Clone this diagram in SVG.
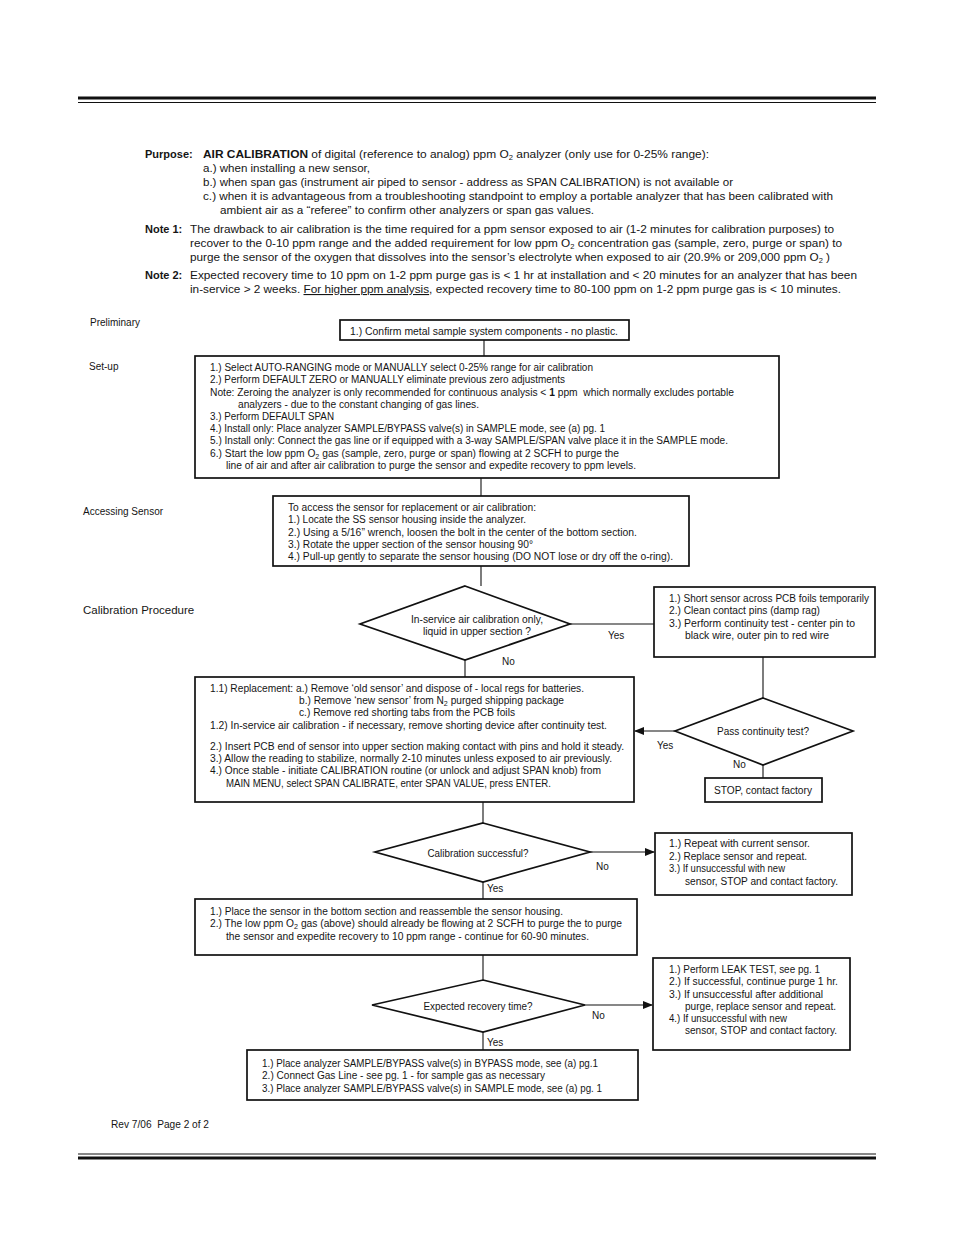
<svg xmlns="http://www.w3.org/2000/svg" width="954" height="1235" viewBox="0 0 954 1235">
<style>
text{font-family:"Liberation Sans",Arial,sans-serif;fill:#151515}
.t{font-size:10px}
.p{font-size:11px}
.b{font-weight:bold}
.lbl{font-size:10px}
.box{fill:none;stroke:#111;stroke-width:1.7}
.con{fill:none;stroke:#111;stroke-width:1.1}
.c{text-anchor:middle}
</style>
<defs>
<marker id="ah" markerWidth="10" markerHeight="8" refX="9" refY="4" orient="auto" markerUnits="userSpaceOnUse">
<path d="M0,0 L10,4 L0,8 Z" fill="#111"/>
</marker>
</defs>
<rect width="954" height="1235" fill="#fff"/>
<g id="rules">
<line x1="78" y1="98" x2="876" y2="98" stroke="#111" stroke-width="3"/>
<line x1="78" y1="102.5" x2="876" y2="102.5" stroke="#111" stroke-width="1"/>
<line x1="78" y1="1154" x2="876" y2="1154" stroke="#111" stroke-width="1"/>
<line x1="78" y1="1158" x2="876" y2="1158" stroke="#111" stroke-width="3"/>
</g>
<g id="intro" class="p">
<text x="145" y="158"><tspan class="b">Purpose:</tspan></text>
<text x="203" y="158" textLength="506" lengthAdjust="spacingAndGlyphs"><tspan class="b">AIR CALIBRATION</tspan> of digital (reference to analog) ppm O<tspan font-size="7" dy="2">2</tspan><tspan dy="-2"> analyzer (only use for 0-25% range):</tspan></text>
<text x="203" y="172" textLength="167" lengthAdjust="spacingAndGlyphs">a.) when installing a new sensor,</text>
<text x="203" y="186" textLength="530" lengthAdjust="spacingAndGlyphs">b.) when span gas (instrument air piped to sensor - address as SPAN CALIBRATION) is not available or</text>
<text x="203" y="200" textLength="630" lengthAdjust="spacingAndGlyphs">c.) when it is advantageous from a troubleshooting standpoint to employ a portable analyzer that has been calibrated with</text>
<text x="220" y="214" textLength="374" lengthAdjust="spacingAndGlyphs">ambient air as a “referee” to confirm other analyzers or span gas values.</text>
<text x="145" y="233" class="b">Note 1:</text>
<text x="190" y="233" textLength="644" lengthAdjust="spacingAndGlyphs">The drawback to air calibration is the time required for a ppm sensor exposed to air (1-2 minutes for calibration purposes) to</text>
<text x="190" y="247" textLength="652" lengthAdjust="spacingAndGlyphs">recover to the 0-10 ppm range and the added requirement for low ppm O<tspan font-size="7" dy="2">2</tspan><tspan dy="-2"> concentration gas (sample, zero, purge or span) to</tspan></text>
<text x="190" y="261" textLength="640" lengthAdjust="spacingAndGlyphs">purge the sensor of the oxygen that dissolves into the sensor’s electrolyte when exposed to air (20.9% or 209,000 ppm O<tspan font-size="7" dy="2">2</tspan><tspan dy="-2"> )</tspan></text>
<text x="145" y="279" class="b">Note 2:</text>
<text x="190" y="279" textLength="667" lengthAdjust="spacingAndGlyphs">Expected recovery time to 10 ppm on 1-2 ppm purge gas is &lt; 1 hr at installation and &lt; 20 minutes for an analyzer that has been</text>
<text x="190" y="293" textLength="651" lengthAdjust="spacingAndGlyphs">in-service &gt; 2 weeks. <tspan text-decoration="underline">For higher ppm analysis</tspan>, expected recovery time to 80-100 ppm on 1-2 ppm purge gas is &lt; 10 minutes.</text>
</g>
<g id="section-labels" class="lbl">
<text x="90" y="326">Preliminary</text>
<text x="89" y="370">Set-up</text>
<text x="83" y="515">Accessing Sensor</text>
<text x="83" y="614" font-size="11.5">Calibration Procedure</text>
</g>
<g id="connectors">
<line class="con" x1="484" y1="340" x2="484" y2="356"/>
<line class="con" x1="481" y1="478" x2="481" y2="496"/>
<line class="con" x1="481" y1="566" x2="481" y2="586"/>
<line class="con" x1="570" y1="624" x2="654" y2="624"/>
<line class="con" x1="465" y1="660" x2="465" y2="677"/>
<line class="con" x1="763" y1="657" x2="763" y2="698"/>
<line class="con" x1="675" y1="731" x2="635" y2="731" marker-end="url(#ah)"/>
<line class="con" x1="763" y1="765" x2="763" y2="778"/>
<line class="con" x1="483" y1="802" x2="483" y2="823"/>
<line class="con" x1="590" y1="852" x2="654" y2="852" marker-end="url(#ah)"/>
<line class="con" x1="483" y1="882" x2="483" y2="899"/>
<line class="con" x1="483" y1="955" x2="483" y2="980"/>
<line class="con" x1="585" y1="1005" x2="652" y2="1005" marker-end="url(#ah)"/>
<line class="con" x1="483" y1="1032" x2="483" y2="1050"/>
<g class="t">
<text x="608" y="639">Yes</text>
<text x="502" y="665">No</text>
<text x="657" y="749">Yes</text>
<text x="733" y="768">No</text>
<text x="596" y="870">No</text>
<text x="487" y="892">Yes</text>
<text x="592" y="1019">No</text>
<text x="487" y="1046">Yes</text>
</g>
</g>
<g id="n-confirm" class="t">
<rect class="box" x="340" y="320" width="289" height="20"/>
<text x="484" y="335" class="c" textLength="268" lengthAdjust="spacingAndGlyphs">1.) Confirm metal sample system components - no plastic.</text>
</g>
<g id="n-setup" class="t">
<rect class="box" x="195" y="356" width="584" height="122"/>
<text x="210" y="371" textLength="383" lengthAdjust="spacingAndGlyphs">1.) Select AUTO-RANGING mode or MANUALLY select 0-25% range for air calibration</text>
<text x="210" y="383" textLength="355" lengthAdjust="spacingAndGlyphs">2.) Perform DEFAULT ZERO or MANUALLY eliminate previous zero adjustments</text>
<text x="210" y="396" textLength="524" lengthAdjust="spacingAndGlyphs" xml:space="preserve">Note: Zeroing the analyzer is only recommended for continuous analysis &lt; <tspan font-weight="bold">1</tspan> ppm  which normally excludes portable</text>
<text x="238" y="408" textLength="241" lengthAdjust="spacingAndGlyphs">analyzers - due to the constant changing of gas lines.</text>
<text x="210" y="420" textLength="124" lengthAdjust="spacingAndGlyphs">3.) Perform DEFAULT SPAN</text>
<text x="210" y="432" textLength="395" lengthAdjust="spacingAndGlyphs">4.) Install only: Place analyzer SAMPLE/BYPASS valve(s) in SAMPLE mode, see (a) pg. 1</text>
<text x="210" y="444" textLength="518" lengthAdjust="spacingAndGlyphs">5.) Install only: Connect the gas line or if equipped with a 3-way SAMPLE/SPAN valve place it in the SAMPLE mode.</text>
<text x="210" y="457" textLength="409" lengthAdjust="spacingAndGlyphs">6.) Start the low ppm O<tspan font-size="7" dy="2">2</tspan><tspan dy="-2"> gas (sample, zero, purge or span) flowing at 2 SCFH to purge the</tspan></text>
<text x="226" y="469" textLength="410" lengthAdjust="spacingAndGlyphs">line of air and after air calibration to purge the sensor and expedite recovery to ppm levels.</text>
</g>
<g id="n-access" class="t">
<rect class="box" x="273" y="496" width="416" height="70"/>
<text x="288" y="511" textLength="248" lengthAdjust="spacingAndGlyphs">To access the sensor for replacement or air calibration:</text>
<text x="288" y="523" textLength="238" lengthAdjust="spacingAndGlyphs">1.) Locate the SS sensor housing inside the analyzer.</text>
<text x="288" y="536" textLength="349" lengthAdjust="spacingAndGlyphs">2.) Using a 5/16” wrench, loosen the bolt in the center of the bottom section.</text>
<text x="288" y="548" textLength="245" lengthAdjust="spacingAndGlyphs">3.) Rotate the upper section of the sensor housing 90°</text>
<text x="288" y="560" textLength="385" lengthAdjust="spacingAndGlyphs">4.) Pull-up gently to separate the sensor housing (DO NOT lose or dry off the o-ring).</text>
</g>
<g id="d-inservice" class="t">
<polygon class="box" points="465,586 570,624 465,660 360,624"/>
<text x="477" y="623" class="c" textLength="132" lengthAdjust="spacingAndGlyphs">In-service air calibration only,</text>
<text x="477" y="635" class="c" textLength="108" lengthAdjust="spacingAndGlyphs">liquid in upper section ?</text>
</g>
<g id="n-short" class="t">
<rect class="box" x="654" y="587" width="221" height="70"/>
<text x="669" y="602" textLength="200" lengthAdjust="spacingAndGlyphs">1.) Short sensor across PCB foils temporarily</text>
<text x="669" y="614" textLength="151" lengthAdjust="spacingAndGlyphs">2.) Clean contact pins (damp rag)</text>
<text x="669" y="627" textLength="186" lengthAdjust="spacingAndGlyphs">3.) Perform continuity test - center pin to</text>
<text x="685" y="639" textLength="144" lengthAdjust="spacingAndGlyphs">black wire, outer pin to red wire</text>
</g>
<g id="n-replace" class="t">
<rect class="box" x="195" y="677" width="439" height="125"/>
<text x="210" y="692" textLength="374" lengthAdjust="spacingAndGlyphs">1.1) Replacement: a.) Remove ‘old sensor’ and dispose of - local regs for batteries.</text>
<text x="299" y="704" textLength="265" lengthAdjust="spacingAndGlyphs">b.) Remove ‘new sensor’ from N<tspan font-size="7" dy="2">2</tspan><tspan dy="-2"> purged shipping package</tspan></text>
<text x="299" y="716" textLength="216" lengthAdjust="spacingAndGlyphs">c.) Remove red shorting tabs from the PCB foils</text>
<text x="210" y="729" textLength="397" lengthAdjust="spacingAndGlyphs">1.2) In-service air calibration - if necessary, remove shorting device after continuity test.</text>
<text x="210" y="750" textLength="414" lengthAdjust="spacingAndGlyphs">2.) Insert PCB end of sensor into upper section making contact with pins and hold it steady.</text>
<text x="210" y="762" textLength="402" lengthAdjust="spacingAndGlyphs">3.) Allow the reading to stabilize, normally 2-10 minutes unless exposed to air previously.</text>
<text x="210" y="774" textLength="391" lengthAdjust="spacingAndGlyphs">4.) Once stable - initiate CALIBRATION routine (or unlock and adjust SPAN knob) from</text>
<text x="226" y="787" textLength="325" lengthAdjust="spacingAndGlyphs">MAIN MENU, select SPAN CALIBRATE, enter SPAN VALUE, press ENTER.</text>
</g>
<g id="d-continuity" class="t">
<polygon class="box" points="763,698 853,731 763,765 675,731"/>
<text x="763" y="735" class="c" textLength="92" lengthAdjust="spacingAndGlyphs">Pass continuity test?</text>
</g>
<g id="n-stop" class="t">
<rect class="box" x="705" y="778" width="117" height="24"/>
<text x="763" y="794" class="c" textLength="98" lengthAdjust="spacingAndGlyphs">STOP, contact factory</text>
</g>
<g id="d-calok" class="t">
<polygon class="box" points="483,823 590,852 483,882 375,852"/>
<text x="478" y="857" class="c" textLength="101" lengthAdjust="spacingAndGlyphs">Calibration successful?</text>
</g>
<g id="n-repeat" class="t">
<rect class="box" x="655" y="833" width="197" height="62"/>
<text x="669" y="847" textLength="141" lengthAdjust="spacingAndGlyphs">1.) Repeat with current sensor.</text>
<text x="669" y="860" textLength="138" lengthAdjust="spacingAndGlyphs">2.) Replace sensor and repeat.</text>
<text x="669" y="872" textLength="116" lengthAdjust="spacingAndGlyphs">3.) If unsuccessful with new</text>
<text x="685" y="885" textLength="153" lengthAdjust="spacingAndGlyphs">sensor, STOP and contact factory.</text>
</g>
<g id="n-place" class="t">
<rect class="box" x="195" y="899" width="442" height="56"/>
<text x="210" y="915" textLength="353" lengthAdjust="spacingAndGlyphs">1.) Place the sensor in the bottom section and reassemble the sensor housing.</text>
<text x="210" y="927" textLength="412" lengthAdjust="spacingAndGlyphs">2.) The low ppm O<tspan font-size="7" dy="2">2</tspan><tspan dy="-2"> gas (above) should already be flowing at 2 SCFH to purge the to purge</tspan></text>
<text x="226" y="940" textLength="363" lengthAdjust="spacingAndGlyphs">the sensor and expedite recovery to 10 ppm range - continue for 60-90 minutes.</text>
</g>
<g id="d-recovery" class="t">
<polygon class="box" points="483,980 585,1005 483,1032 372,1005"/>
<text x="478" y="1010" class="c" textLength="109" lengthAdjust="spacingAndGlyphs">Expected recovery time?</text>
</g>
<g id="n-leak" class="t">
<rect class="box" x="653" y="958" width="197" height="92"/>
<text x="669" y="973" textLength="151" lengthAdjust="spacingAndGlyphs">1.) Perform LEAK TEST, see pg. 1</text>
<text x="669" y="985" textLength="169" lengthAdjust="spacingAndGlyphs">2.) If successful, continue purge 1 hr.</text>
<text x="669" y="998" textLength="154" lengthAdjust="spacingAndGlyphs">3.) If unsuccessful after additional</text>
<text x="685" y="1010" textLength="151" lengthAdjust="spacingAndGlyphs">purge, replace sensor and repeat.</text>
<text x="669" y="1022" textLength="118" lengthAdjust="spacingAndGlyphs">4.) If unsuccessful with new</text>
<text x="685" y="1034" textLength="152" lengthAdjust="spacingAndGlyphs">sensor, STOP and contact factory.</text>
</g>
<g id="n-bypass" class="t">
<rect class="box" x="247" y="1050" width="391" height="50"/>
<text x="262" y="1067" textLength="336" lengthAdjust="spacingAndGlyphs">1.) Place analyzer SAMPLE/BYPASS valve(s) in BYPASS mode, see (a) pg.1</text>
<text x="262" y="1079" textLength="283" lengthAdjust="spacingAndGlyphs">2.) Connect Gas Line - see pg. 1 - for sample gas as necessary</text>
<text x="262" y="1092" textLength="340" lengthAdjust="spacingAndGlyphs">3.) Place analyzer SAMPLE/BYPASS valve(s) in SAMPLE mode, see (a) pg. 1</text>
</g>
<g id="footer" class="t">
<text x="111" y="1128" xml:space="preserve" textLength="98" lengthAdjust="spacingAndGlyphs">Rev 7/06  Page 2 of 2</text>
</g>
</svg>
